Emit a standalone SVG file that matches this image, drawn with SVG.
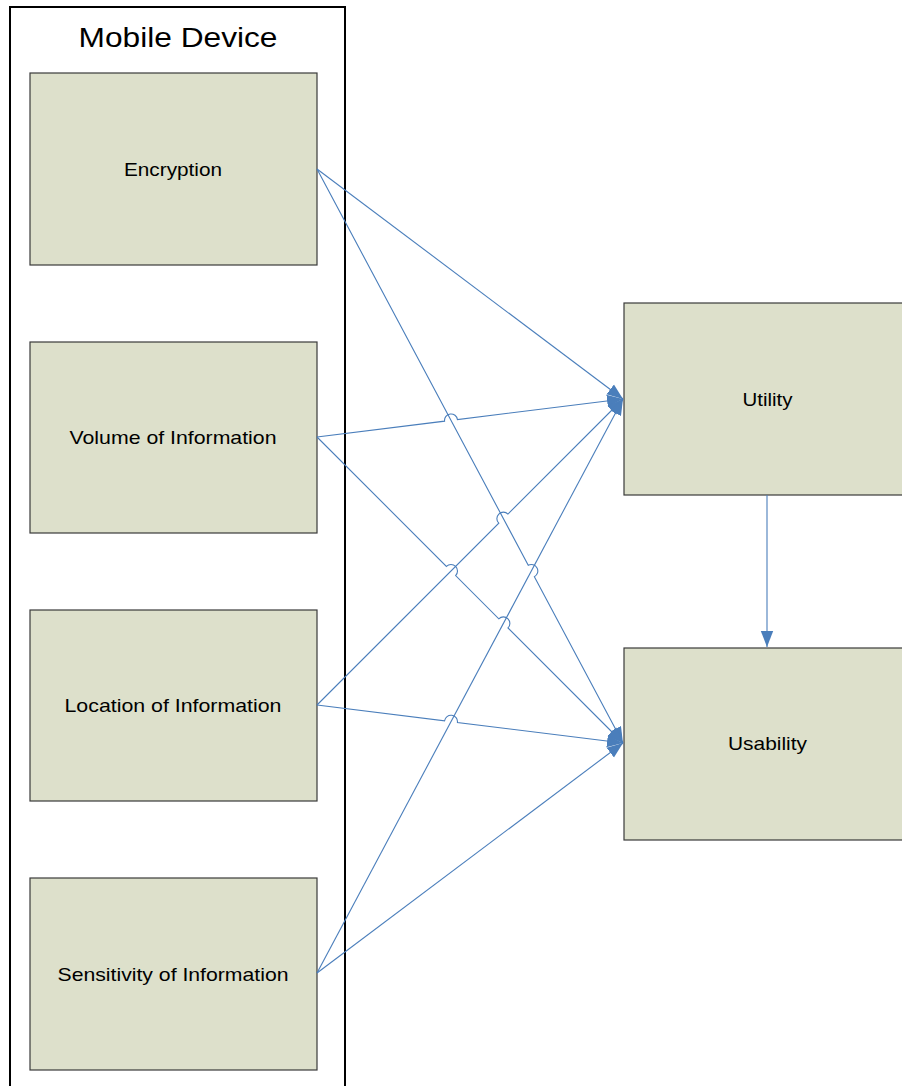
<svg xmlns="http://www.w3.org/2000/svg" width="902" height="1086" viewBox="0 0 902 1086">
<style>
.box{fill:#DDE0CB;stroke:#3a3a3a;stroke-width:1.2}
.lbl{font-family:"Liberation Sans",Arial,sans-serif;font-size:19px;fill:#000;text-anchor:middle}
.title{font-family:"Liberation Sans",Arial,sans-serif;font-size:28px;fill:#000;text-anchor:middle}
.conn{fill:none;stroke:#4A7EBB;stroke-width:1.1;marker-end:url(#arr)}
</style>
<defs>
<marker id="arr" markerUnits="userSpaceOnUse" markerWidth="18" markerHeight="14" refX="16" refY="7" orient="auto">
<path d="M0,0.8 L16,7 L0,13.2 z" fill="#4A7EBB"/>
</marker>
</defs>
<g id="container">
<rect x="10" y="7" width="335" height="1100" fill="#fff" stroke="#000" stroke-width="2"/>
<text class="title" x="178" y="47" textLength="199" lengthAdjust="spacingAndGlyphs">Mobile Device</text>
</g>
<g id="encryption">
<rect class="box" x="30" y="73" width="287" height="192"/>
<text class="lbl" x="173" y="176" textLength="98" lengthAdjust="spacingAndGlyphs">Encryption</text>
</g>
<g id="volume">
<rect class="box" x="30" y="342" width="287" height="191"/>
<text class="lbl" x="173" y="444" textLength="207" lengthAdjust="spacingAndGlyphs">Volume of Information</text>
</g>
<g id="location">
<rect class="box" x="30" y="610" width="287" height="191"/>
<text class="lbl" x="173" y="712" textLength="217" lengthAdjust="spacingAndGlyphs">Location of Information</text>
</g>
<g id="sensitivity">
<rect class="box" x="30" y="878" width="287" height="192"/>
<text class="lbl" x="173" y="981" textLength="231" lengthAdjust="spacingAndGlyphs">Sensitivity of Information</text>
</g>
<g id="utility">
<rect class="box" x="624" y="303" width="290" height="192"/>
<text class="lbl" x="767.5" y="406" textLength="50" lengthAdjust="spacingAndGlyphs">Utility</text>
</g>
<g id="usability">
<rect class="box" x="624" y="648" width="290" height="192"/>
<text class="lbl" x="767.5" y="750" textLength="79" lengthAdjust="spacingAndGlyphs">Usability</text>
</g>
<g id="connectors">
<path class="conn" d="M317,169 L623,399"/>
<path class="conn" d="M317,169 L528.25,565.26 A6.5,6.5 0 0 1 534.37,576.74 L623,743"/>
<path class="conn" d="M317,437 L444.55,421.16 A6.5,6.5 0 0 1 457.45,419.56 L623,399"/>
<path class="conn" d="M317,437 L446.40,566.40 A6.5,6.5 0 0 1 455.60,575.60 L498.78,618.78 A6.5,6.5 0 0 1 507.98,627.98 L623,743"/>
<path class="conn" d="M317,705 L498.78,523.22 A6.5,6.5 0 0 1 507.98,514.02 L623,399"/>
<path class="conn" d="M317,705 L444.55,720.84 A6.5,6.5 0 0 1 457.45,722.44 L623,743"/>
<path class="conn" d="M317,973 L623,399"/>
<path class="conn" d="M317,973 L623,743"/>
<path class="conn" d="M767,495 L767,647"/>
</g>
</svg>
